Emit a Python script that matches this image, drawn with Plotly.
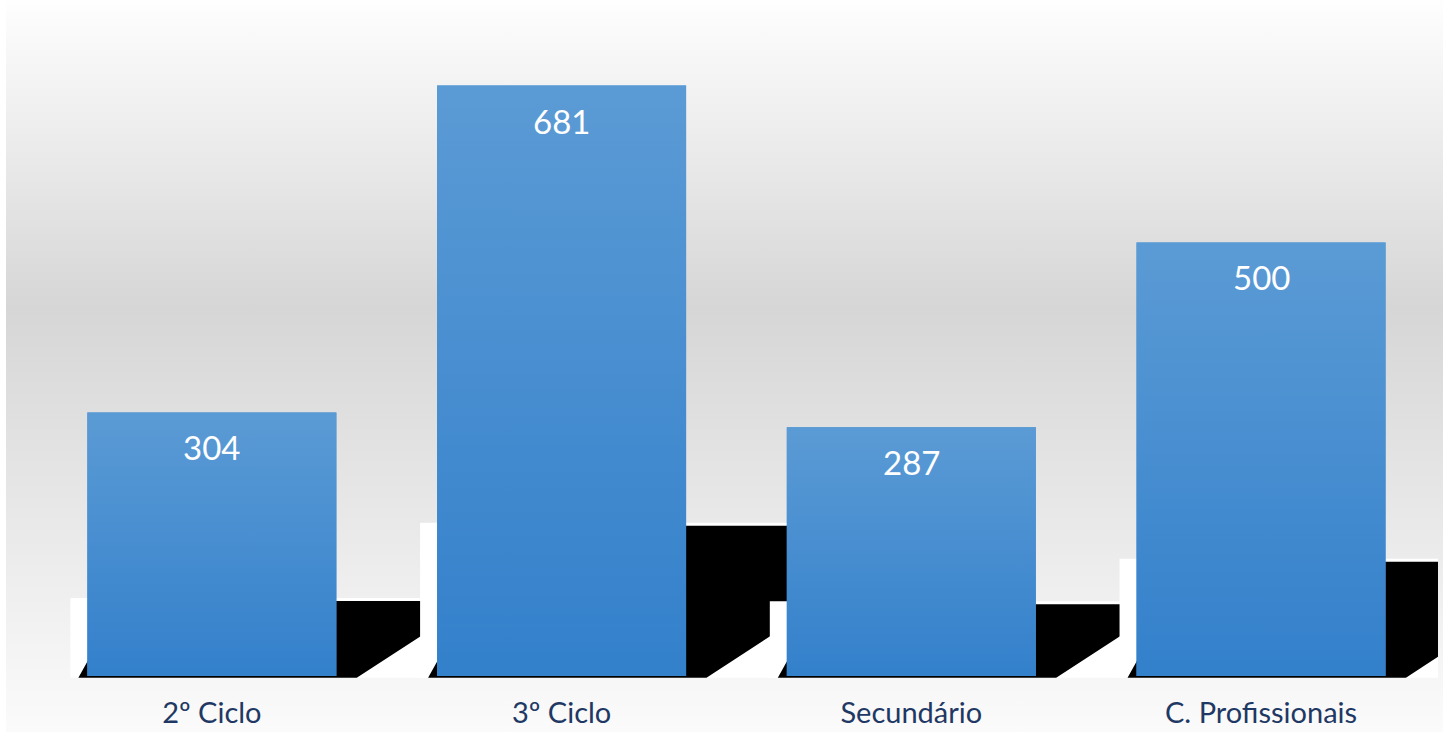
import base64
import plotly.graph_objects as go

# ---- data ----
categories = ["2º Ciclo", "3º Ciclo", "Secundário", "C. Profissionais"]
values = [304, 681, 287, 500]

# ---- layout constants ----
W, H = 1449, 732
ML, MR, MT, MB = 37, 11, 0, 54
XR = [-0.5, 3.506]
YR = [-2.3, 779.6]
BAR_W = 0.712
BAR_TOP_COLOR = "#5b9bd5"
BAR_BOTTOM_COLOR = "#3380cb"
LABEL_COLOR = "#1f3864"
FONT = "Lato"

pw = W - ML - MR
ph = H - MT - MB
pxx = pw / (XR[1] - XR[0])  # px per x unit
pxy = ph / (YR[1] - YR[0])  # px per y unit


def dx(px):
    return px / pxx


def dy(px):
    return px / pxy


xpos = list(range(len(categories)))

fig = go.Figure()

# Bars (solid base)
fig.add_trace(go.Bar(
    x=xpos, y=values, width=BAR_W,
    marker=dict(color="#4a8fd2", line=dict(width=0)),
    hoverinfo="skip", showlegend=False,
))

# Gradient overlay for each bar (from data values)
for i, v in zip(xpos, values):
    l, r = i - BAR_W / 2, i + BAR_W / 2
    fig.add_trace(go.Scatter(
        x=[l, r, r, l, l], y=[0, 0, v, v, 0],
        mode="lines", line=dict(width=0),
        fill="toself",
        fillgradient=dict(type="vertical",
                          colorscale=[[0, BAR_BOTTOM_COLOR], [1, BAR_TOP_COLOR]]),
        hoverinfo="skip", showlegend=False,
    ))

# Shadow decorations (white plate + black skewed shadow), derived from values
shapes = []
for i, v in zip(xpos, values):
    l, r = i - BAR_W / 2, i + BAR_W / 2
    h_px = v * pxy
    top_w = 17.5 + 0.23 * h_px
    top_b = top_w - 3
    shapes.append(dict(
        type="rect", xref="x", yref="y", layer="below",
        x0=l - dx(17), x1=r + dx(110), y0=-dy(1.7), y1=dy(top_w),
        fillcolor="#ffffff", line=dict(width=0),
    ))
    pts = [
        (l - dx(9), -dy(1.7)),
        (l + dx(2), dy(18)),
        (l + dx(2), dy(top_b)),
        (r + dx(23 + top_b / 0.65), dy(top_b)),
        (r + dx(23 - 1.7 / 0.65), -dy(1.7)),
    ]
    path = "M " + " L ".join(f"{x:.5f},{y:.4f}" for x, y in pts) + " Z"
    shapes.append(dict(
        type="path", xref="x", yref="y", layer="below",
        path=path, fillcolor="#000000", line=dict(width=0),
    ))

# Value labels inside bars
annotations = []
for i, v in zip(xpos, values):
    annotations.append(dict(
        x=i, y=v, xref="x", yref="y", text=str(v), showarrow=False,
        yanchor="top", xanchor="center", yshift=-13,
        font=dict(family=FONT, size=33, color="#ffffff"),
    ))

# Background gradient as an SVG image
svg = (
    "<svg xmlns='http://www.w3.org/2000/svg' width='1437' height='732' preserveAspectRatio='none'>"
    "<defs><linearGradient id='g' x1='0' y1='0' x2='0' y2='1'>"
    "<stop offset='0' stop-color='#fefefe'/>"
    "<stop offset='0.42' stop-color='#d6d6d6'/>"
    "<stop offset='1' stop-color='#fbfbfb'/>"
    "</linearGradient></defs>"
    "<rect x='0' y='0' width='1437' height='732' fill='url(#g)'/></svg>"
)
src = "data:image/svg+xml;base64," + base64.b64encode(svg.encode()).decode()
bg_left, bg_right = 6, 1443

fig.update_layout(
    width=W, height=H,
    margin=dict(l=ML, r=MR, t=MT, b=MB, pad=0, autoexpand=False),
    paper_bgcolor="#ffffff",
    plot_bgcolor="rgba(0,0,0,0)",
    showlegend=False,
    shapes=shapes,
    annotations=annotations,
    images=[dict(
        source=src, xref="paper", yref="paper",
        x=(bg_left - ML) / pw, y=1.0,
        sizex=(bg_right - bg_left) / pw, sizey=H / ph,
        xanchor="left", yanchor="top", sizing="stretch", layer="below",
    )],
    xaxis=dict(
        range=XR, tickvals=xpos, ticktext=categories,
        showgrid=False, zeroline=False, showline=False, ticks="",
        tickfont=dict(family=FONT, size=29, color=LABEL_COLOR),
        ticklabelstandoff=15, fixedrange=True, automargin=False,
    ),
    yaxis=dict(range=YR, visible=False, showgrid=False, zeroline=False,
               fixedrange=True, automargin=False),
)

fig.write_html("out.html", config={"displayModeBar": False},
               post_script="document.body.style.margin='0';")
